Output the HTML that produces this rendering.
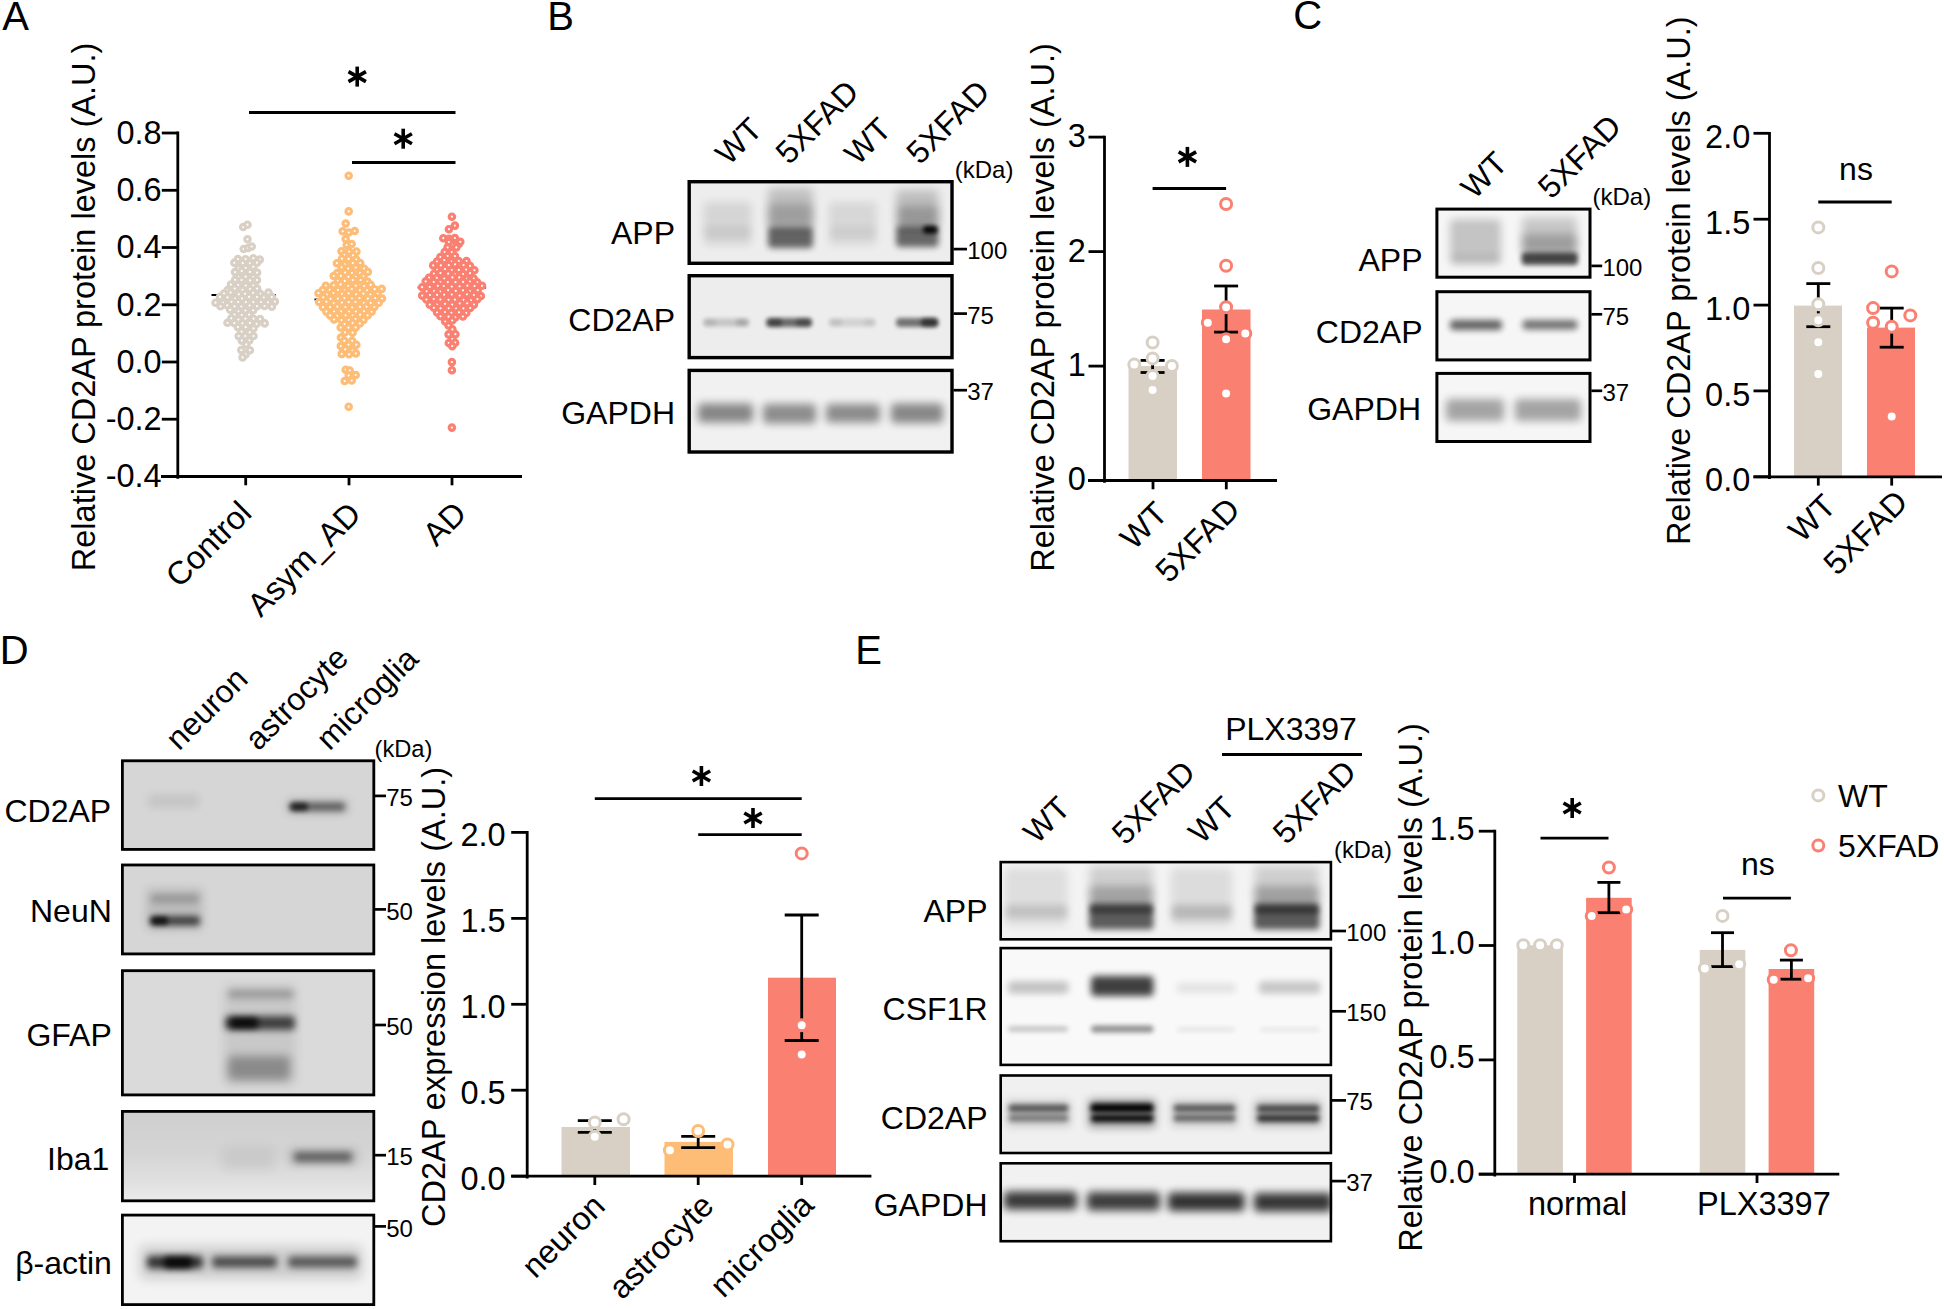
<!DOCTYPE html><html><head><meta charset="utf-8"><title>Figure</title>
<style>html,body{margin:0;padding:0;background:#fff}svg{display:block}text{font-family:"Liberation Sans",sans-serif;fill:#000}</style></head><body>
<svg width="1944" height="1309" viewBox="0 0 1944 1309">
<defs>
<filter id="b1" x="-50%" y="-200%" width="200%" height="500%"><feGaussianBlur stdDeviation="1"/></filter>
<filter id="b1_5" x="-50%" y="-200%" width="200%" height="500%"><feGaussianBlur stdDeviation="1.5"/></filter>
<filter id="b2" x="-50%" y="-200%" width="200%" height="500%"><feGaussianBlur stdDeviation="2"/></filter>
<filter id="b2_2" x="-50%" y="-200%" width="200%" height="500%"><feGaussianBlur stdDeviation="2.2"/></filter>
<filter id="b2_5" x="-50%" y="-200%" width="200%" height="500%"><feGaussianBlur stdDeviation="2.5"/></filter>
<filter id="b2_6" x="-50%" y="-200%" width="200%" height="500%"><feGaussianBlur stdDeviation="2.6"/></filter>
<filter id="b2_7" x="-50%" y="-200%" width="200%" height="500%"><feGaussianBlur stdDeviation="2.7"/></filter>
<filter id="b2_8" x="-50%" y="-200%" width="200%" height="500%"><feGaussianBlur stdDeviation="2.8"/></filter>
<filter id="b3" x="-50%" y="-200%" width="200%" height="500%"><feGaussianBlur stdDeviation="3"/></filter>
<filter id="b3_2" x="-50%" y="-200%" width="200%" height="500%"><feGaussianBlur stdDeviation="3.2"/></filter>
<filter id="b3_5" x="-50%" y="-200%" width="200%" height="500%"><feGaussianBlur stdDeviation="3.5"/></filter>
<filter id="b4" x="-50%" y="-200%" width="200%" height="500%"><feGaussianBlur stdDeviation="4"/></filter>
<filter id="b4_5" x="-50%" y="-200%" width="200%" height="500%"><feGaussianBlur stdDeviation="4.5"/></filter>
<filter id="b5" x="-50%" y="-200%" width="200%" height="500%"><feGaussianBlur stdDeviation="5"/></filter>
<filter id="b6" x="-50%" y="-200%" width="200%" height="500%"><feGaussianBlur stdDeviation="6"/></filter>
<filter id="b8" x="-50%" y="-200%" width="200%" height="500%"><feGaussianBlur stdDeviation="8"/></filter>
<linearGradient id="gD4" x1="0" y1="0" x2="0" y2="1"><stop offset="0" stop-color="#fff" stop-opacity="0"/><stop offset="0.45" stop-color="#fff" stop-opacity="0.1"/><stop offset="0.8" stop-color="#fff" stop-opacity="0.38"/><stop offset="1" stop-color="#fff" stop-opacity="0.6"/></linearGradient>
</defs>
<rect width="1944" height="1309" fill="#fff"/>
<text x="2.2" y="29.8" font-size="40" text-anchor="start">A</text>
<text x="547.2" y="29.7" font-size="40" text-anchor="start">B</text>
<text x="1293.2" y="29.4" font-size="40" text-anchor="start">C</text>
<text x="-0.3" y="664.0" font-size="40" text-anchor="start">D</text>
<text x="855.3" y="664.0" font-size="40" text-anchor="start">E</text>
<line x1="177.8" y1="131.6" x2="177.8" y2="478.7" stroke="#000" stroke-width="2.8"/>
<line x1="161.0" y1="476.5" x2="522.0" y2="476.5" stroke="#000" stroke-width="2.8"/>
<line x1="161.8" y1="133.0" x2="177.8" y2="133.0" stroke="#000" stroke-width="2.8"/>
<text x="161.7" y="143.8" font-size="32.5" text-anchor="end">0.8</text>
<line x1="161.8" y1="190.3" x2="177.8" y2="190.3" stroke="#000" stroke-width="2.8"/>
<text x="161.7" y="201.0" font-size="32.5" text-anchor="end">0.6</text>
<line x1="161.8" y1="247.5" x2="177.8" y2="247.5" stroke="#000" stroke-width="2.8"/>
<text x="161.7" y="258.3" font-size="32.5" text-anchor="end">0.4</text>
<line x1="161.8" y1="304.8" x2="177.8" y2="304.8" stroke="#000" stroke-width="2.8"/>
<text x="161.7" y="315.5" font-size="32.5" text-anchor="end">0.2</text>
<line x1="161.8" y1="362.0" x2="177.8" y2="362.0" stroke="#000" stroke-width="2.8"/>
<text x="161.7" y="372.7" font-size="32.5" text-anchor="end">0.0</text>
<line x1="161.8" y1="419.2" x2="177.8" y2="419.2" stroke="#000" stroke-width="2.8"/>
<text x="161.7" y="430.0" font-size="32.5" text-anchor="end">-0.2</text>
<line x1="161.8" y1="476.5" x2="177.8" y2="476.5" stroke="#000" stroke-width="2.8"/>
<text x="161.7" y="487.2" font-size="32.5" text-anchor="end">-0.4</text>
<line x1="245.7" y1="476.5" x2="245.7" y2="485.3" stroke="#000" stroke-width="2.8"/>
<line x1="349.0" y1="476.5" x2="349.0" y2="485.3" stroke="#000" stroke-width="2.8"/>
<line x1="452.0" y1="476.5" x2="452.0" y2="485.3" stroke="#000" stroke-width="2.8"/>
<text transform="translate(95.3,306.9) rotate(-90)" font-size="32.5" text-anchor="middle">Relative CD2AP protein levels (A.U.)</text>
<line x1="249.0" y1="112.5" x2="455.5" y2="112.5" stroke="#000" stroke-width="2.8"/>
<line x1="357.2" y1="66.6" x2="357.2" y2="86.6" stroke="#000" stroke-width="3.6"/>
<line x1="348.5" y1="71.6" x2="365.9" y2="81.6" stroke="#000" stroke-width="3.6"/>
<line x1="348.5" y1="81.6" x2="365.9" y2="71.6" stroke="#000" stroke-width="3.6"/>
<line x1="352.0" y1="162.5" x2="455.5" y2="162.5" stroke="#000" stroke-width="2.8"/>
<line x1="403.2" y1="128.7" x2="403.2" y2="148.7" stroke="#000" stroke-width="3.6"/>
<line x1="394.5" y1="133.7" x2="411.9" y2="143.7" stroke="#000" stroke-width="3.6"/>
<line x1="394.5" y1="143.7" x2="411.9" y2="133.7" stroke="#000" stroke-width="3.6"/>
<text transform="translate(253.3,515.0) rotate(-45)" font-size="32.5" text-anchor="end">Control</text>
<text transform="translate(362.8,516.0) rotate(-45)" font-size="32.5" text-anchor="end">Asym_AD</text>
<text transform="translate(468.3,515.5) rotate(-45)" font-size="32.5" text-anchor="end">AD</text>
<line x1="211.5" y1="295.0" x2="275.7" y2="295.0" stroke="#000" stroke-width="2"/>
<g fill="#fff" stroke="#d9d0c5" stroke-width="3.2">
<circle cx="237.9" cy="259.1" r="2.7"/>
<circle cx="245.5" cy="259.2" r="2.7"/>
<circle cx="253.3" cy="258.2" r="2.7"/>
<circle cx="259.8" cy="259.6" r="2.7"/>
<circle cx="234.3" cy="262.8" r="2.7"/>
<circle cx="242.7" cy="263.2" r="2.7"/>
<circle cx="249.9" cy="263.3" r="2.7"/>
<circle cx="257.0" cy="262.7" r="2.7"/>
<circle cx="238.5" cy="268.3" r="2.7"/>
<circle cx="245.7" cy="268.0" r="2.7"/>
<circle cx="253.3" cy="266.8" r="2.7"/>
<circle cx="235.0" cy="272.1" r="2.7"/>
<circle cx="241.7" cy="271.1" r="2.7"/>
<circle cx="249.9" cy="271.9" r="2.7"/>
<circle cx="257.1" cy="272.6" r="2.7"/>
<circle cx="238.6" cy="277.0" r="2.7"/>
<circle cx="245.6" cy="276.7" r="2.7"/>
<circle cx="253.0" cy="277.0" r="2.7"/>
<circle cx="235.1" cy="279.8" r="2.7"/>
<circle cx="241.5" cy="280.0" r="2.7"/>
<circle cx="250.1" cy="280.4" r="2.7"/>
<circle cx="257.0" cy="280.1" r="2.7"/>
<circle cx="230.9" cy="284.6" r="2.7"/>
<circle cx="238.1" cy="285.0" r="2.7"/>
<circle cx="245.8" cy="285.5" r="2.7"/>
<circle cx="253.4" cy="285.6" r="2.7"/>
<circle cx="227.7" cy="290.0" r="2.7"/>
<circle cx="234.8" cy="288.5" r="2.7"/>
<circle cx="242.5" cy="289.9" r="2.7"/>
<circle cx="250.0" cy="289.2" r="2.7"/>
<circle cx="257.1" cy="288.6" r="2.7"/>
<circle cx="224.0" cy="293.5" r="2.7"/>
<circle cx="230.6" cy="292.6" r="2.7"/>
<circle cx="238.8" cy="294.3" r="2.7"/>
<circle cx="245.1" cy="293.9" r="2.7"/>
<circle cx="253.0" cy="292.8" r="2.7"/>
<circle cx="260.2" cy="293.9" r="2.7"/>
<circle cx="268.4" cy="292.6" r="2.7"/>
<circle cx="220.0" cy="296.9" r="2.7"/>
<circle cx="227.5" cy="297.4" r="2.7"/>
<circle cx="235.1" cy="298.6" r="2.7"/>
<circle cx="242.0" cy="298.6" r="2.7"/>
<circle cx="249.1" cy="296.9" r="2.7"/>
<circle cx="256.9" cy="296.9" r="2.7"/>
<circle cx="263.8" cy="297.5" r="2.7"/>
<circle cx="271.8" cy="297.1" r="2.7"/>
<circle cx="215.5" cy="302.7" r="2.7"/>
<circle cx="223.2" cy="302.8" r="2.7"/>
<circle cx="231.5" cy="301.8" r="2.7"/>
<circle cx="238.2" cy="302.0" r="2.7"/>
<circle cx="245.9" cy="302.2" r="2.7"/>
<circle cx="253.2" cy="302.2" r="2.7"/>
<circle cx="261.1" cy="302.0" r="2.7"/>
<circle cx="267.8" cy="302.4" r="2.7"/>
<circle cx="274.9" cy="301.6" r="2.7"/>
<circle cx="220.5" cy="306.3" r="2.7"/>
<circle cx="227.3" cy="305.4" r="2.7"/>
<circle cx="234.5" cy="306.4" r="2.7"/>
<circle cx="241.3" cy="306.5" r="2.7"/>
<circle cx="249.6" cy="305.5" r="2.7"/>
<circle cx="257.0" cy="306.2" r="2.7"/>
<circle cx="264.5" cy="306.0" r="2.7"/>
<circle cx="271.9" cy="306.7" r="2.7"/>
<circle cx="230.2" cy="309.8" r="2.7"/>
<circle cx="238.5" cy="311.4" r="2.7"/>
<circle cx="245.4" cy="310.5" r="2.7"/>
<circle cx="253.2" cy="310.3" r="2.7"/>
<circle cx="234.4" cy="314.6" r="2.7"/>
<circle cx="241.8" cy="315.1" r="2.7"/>
<circle cx="249.1" cy="314.7" r="2.7"/>
<circle cx="231.3" cy="318.3" r="2.7"/>
<circle cx="238.4" cy="319.6" r="2.7"/>
<circle cx="245.4" cy="318.7" r="2.7"/>
<circle cx="253.5" cy="318.7" r="2.7"/>
<circle cx="260.1" cy="319.1" r="2.7"/>
<circle cx="227.5" cy="322.8" r="2.7"/>
<circle cx="234.4" cy="323.2" r="2.7"/>
<circle cx="242.5" cy="323.4" r="2.7"/>
<circle cx="249.9" cy="322.9" r="2.7"/>
<circle cx="256.6" cy="323.8" r="2.7"/>
<circle cx="264.7" cy="323.4" r="2.7"/>
<circle cx="237.9" cy="327.1" r="2.7"/>
<circle cx="245.7" cy="327.2" r="2.7"/>
<circle cx="253.5" cy="328.4" r="2.7"/>
<circle cx="241.6" cy="331.7" r="2.7"/>
<circle cx="249.8" cy="332.4" r="2.7"/>
<circle cx="238.7" cy="336.1" r="2.7"/>
<circle cx="245.2" cy="336.0" r="2.7"/>
<circle cx="253.5" cy="336.0" r="2.7"/>
<circle cx="241.8" cy="340.6" r="2.7"/>
<circle cx="249.3" cy="340.5" r="2.7"/>
<circle cx="246.3" cy="344.4" r="2.7"/>
<circle cx="241.3" cy="350.1" r="2.7"/>
<circle cx="249.9" cy="350.2" r="2.7"/>
<circle cx="245.6" cy="354.4" r="2.7"/>
<circle cx="242.6" cy="357.4" r="2.7"/>
<circle cx="243.2" cy="227.0" r="2.7"/>
<circle cx="247.5" cy="224.7" r="2.7"/>
<circle cx="247.5" cy="239.3" r="2.7"/>
<circle cx="243.7" cy="249.0" r="2.7"/>
<circle cx="248.1" cy="248.0" r="2.7"/>
<circle cx="251.7" cy="246.5" r="2.7"/>
</g>
<line x1="314.5" y1="299.5" x2="382.9" y2="299.5" stroke="#000" stroke-width="2"/>
<g fill="#fff" stroke="#fdbd77" stroke-width="3.2">
<circle cx="341.5" cy="251.2" r="2.7"/>
<circle cx="349.1" cy="251.6" r="2.7"/>
<circle cx="356.4" cy="251.6" r="2.7"/>
<circle cx="344.3" cy="255.0" r="2.7"/>
<circle cx="353.0" cy="255.4" r="2.7"/>
<circle cx="341.9" cy="258.7" r="2.7"/>
<circle cx="348.7" cy="258.9" r="2.7"/>
<circle cx="356.2" cy="259.5" r="2.7"/>
<circle cx="336.9" cy="263.2" r="2.7"/>
<circle cx="344.7" cy="264.4" r="2.7"/>
<circle cx="352.8" cy="263.1" r="2.7"/>
<circle cx="360.2" cy="263.0" r="2.7"/>
<circle cx="341.5" cy="267.3" r="2.7"/>
<circle cx="348.0" cy="268.7" r="2.7"/>
<circle cx="355.7" cy="267.5" r="2.7"/>
<circle cx="364.2" cy="268.7" r="2.7"/>
<circle cx="337.3" cy="273.1" r="2.7"/>
<circle cx="345.1" cy="272.6" r="2.7"/>
<circle cx="352.0" cy="273.1" r="2.7"/>
<circle cx="360.1" cy="273.1" r="2.7"/>
<circle cx="367.8" cy="271.9" r="2.7"/>
<circle cx="333.7" cy="276.0" r="2.7"/>
<circle cx="340.8" cy="275.8" r="2.7"/>
<circle cx="348.4" cy="276.8" r="2.7"/>
<circle cx="355.4" cy="276.9" r="2.7"/>
<circle cx="363.3" cy="276.3" r="2.7"/>
<circle cx="338.0" cy="280.9" r="2.7"/>
<circle cx="344.7" cy="280.9" r="2.7"/>
<circle cx="352.7" cy="280.1" r="2.7"/>
<circle cx="360.5" cy="280.0" r="2.7"/>
<circle cx="367.5" cy="281.5" r="2.7"/>
<circle cx="325.8" cy="285.7" r="2.7"/>
<circle cx="333.7" cy="285.3" r="2.7"/>
<circle cx="340.6" cy="284.4" r="2.7"/>
<circle cx="348.3" cy="286.0" r="2.7"/>
<circle cx="355.7" cy="285.7" r="2.7"/>
<circle cx="364.1" cy="286.0" r="2.7"/>
<circle cx="370.7" cy="284.9" r="2.7"/>
<circle cx="322.8" cy="290.0" r="2.7"/>
<circle cx="329.7" cy="289.9" r="2.7"/>
<circle cx="338.0" cy="290.1" r="2.7"/>
<circle cx="344.4" cy="290.3" r="2.7"/>
<circle cx="351.8" cy="289.2" r="2.7"/>
<circle cx="360.0" cy="290.3" r="2.7"/>
<circle cx="367.0" cy="290.3" r="2.7"/>
<circle cx="374.7" cy="289.2" r="2.7"/>
<circle cx="381.7" cy="288.9" r="2.7"/>
<circle cx="318.5" cy="293.2" r="2.7"/>
<circle cx="326.8" cy="294.7" r="2.7"/>
<circle cx="333.4" cy="293.0" r="2.7"/>
<circle cx="342.0" cy="293.9" r="2.7"/>
<circle cx="348.6" cy="293.3" r="2.7"/>
<circle cx="356.2" cy="294.4" r="2.7"/>
<circle cx="363.4" cy="293.7" r="2.7"/>
<circle cx="370.3" cy="294.5" r="2.7"/>
<circle cx="377.6" cy="293.8" r="2.7"/>
<circle cx="323.3" cy="297.4" r="2.7"/>
<circle cx="330.5" cy="298.9" r="2.7"/>
<circle cx="337.8" cy="298.6" r="2.7"/>
<circle cx="344.4" cy="298.0" r="2.7"/>
<circle cx="351.9" cy="298.7" r="2.7"/>
<circle cx="359.5" cy="298.0" r="2.7"/>
<circle cx="367.9" cy="298.7" r="2.7"/>
<circle cx="375.3" cy="298.0" r="2.7"/>
<circle cx="382.0" cy="298.5" r="2.7"/>
<circle cx="319.1" cy="302.0" r="2.7"/>
<circle cx="326.4" cy="301.8" r="2.7"/>
<circle cx="333.7" cy="303.3" r="2.7"/>
<circle cx="341.9" cy="302.6" r="2.7"/>
<circle cx="348.7" cy="302.1" r="2.7"/>
<circle cx="355.5" cy="302.0" r="2.7"/>
<circle cx="363.9" cy="303.1" r="2.7"/>
<circle cx="370.7" cy="302.9" r="2.7"/>
<circle cx="378.7" cy="302.8" r="2.7"/>
<circle cx="323.0" cy="307.2" r="2.7"/>
<circle cx="330.0" cy="307.1" r="2.7"/>
<circle cx="337.3" cy="306.7" r="2.7"/>
<circle cx="345.4" cy="307.0" r="2.7"/>
<circle cx="352.1" cy="307.5" r="2.7"/>
<circle cx="360.0" cy="306.8" r="2.7"/>
<circle cx="366.5" cy="306.8" r="2.7"/>
<circle cx="374.3" cy="307.0" r="2.7"/>
<circle cx="326.4" cy="311.6" r="2.7"/>
<circle cx="334.1" cy="311.5" r="2.7"/>
<circle cx="341.1" cy="311.3" r="2.7"/>
<circle cx="349.0" cy="311.6" r="2.7"/>
<circle cx="355.9" cy="311.6" r="2.7"/>
<circle cx="364.0" cy="311.3" r="2.7"/>
<circle cx="371.6" cy="311.8" r="2.7"/>
<circle cx="330.2" cy="315.4" r="2.7"/>
<circle cx="337.1" cy="315.9" r="2.7"/>
<circle cx="345.6" cy="315.3" r="2.7"/>
<circle cx="352.7" cy="315.7" r="2.7"/>
<circle cx="360.1" cy="314.7" r="2.7"/>
<circle cx="367.6" cy="315.4" r="2.7"/>
<circle cx="334.1" cy="319.5" r="2.7"/>
<circle cx="341.5" cy="320.1" r="2.7"/>
<circle cx="348.9" cy="320.0" r="2.7"/>
<circle cx="355.4" cy="319.0" r="2.7"/>
<circle cx="363.4" cy="319.9" r="2.7"/>
<circle cx="344.6" cy="324.2" r="2.7"/>
<circle cx="352.6" cy="323.1" r="2.7"/>
<circle cx="359.8" cy="323.4" r="2.7"/>
<circle cx="340.7" cy="327.5" r="2.7"/>
<circle cx="348.4" cy="327.6" r="2.7"/>
<circle cx="355.7" cy="327.4" r="2.7"/>
<circle cx="345.0" cy="332.3" r="2.7"/>
<circle cx="352.6" cy="332.7" r="2.7"/>
<circle cx="340.9" cy="337.5" r="2.7"/>
<circle cx="344.3" cy="340.9" r="2.7"/>
<circle cx="352.1" cy="340.9" r="2.7"/>
<circle cx="340.8" cy="346.0" r="2.7"/>
<circle cx="348.5" cy="344.6" r="2.7"/>
<circle cx="356.3" cy="344.7" r="2.7"/>
<circle cx="345.1" cy="349.4" r="2.7"/>
<circle cx="352.5" cy="350.5" r="2.7"/>
<circle cx="341.7" cy="353.9" r="2.7"/>
<circle cx="349.1" cy="354.3" r="2.7"/>
<circle cx="355.9" cy="353.4" r="2.7"/>
<circle cx="348.7" cy="175.7" r="2.7"/>
<circle cx="348.7" cy="211.4" r="2.7"/>
<circle cx="345.7" cy="223.5" r="2.7"/>
<circle cx="342.7" cy="231.3" r="2.7"/>
<circle cx="348.7" cy="232.5" r="2.7"/>
<circle cx="354.7" cy="231.0" r="2.7"/>
<circle cx="345.7" cy="239.0" r="2.7"/>
<circle cx="346.7" cy="245.0" r="2.7"/>
<circle cx="351.7" cy="244.0" r="2.7"/>
<circle cx="345.7" cy="369.7" r="2.7"/>
<circle cx="349.7" cy="370.5" r="2.7"/>
<circle cx="348.7" cy="375.5" r="2.7"/>
<circle cx="355.7" cy="375.0" r="2.7"/>
<circle cx="344.7" cy="381.0" r="2.7"/>
<circle cx="351.7" cy="380.5" r="2.7"/>
<circle cx="348.7" cy="406.7" r="2.7"/>
</g>
<line x1="417.7" y1="287.6" x2="486.1" y2="287.6" stroke="#000" stroke-width="2"/>
<g fill="#fff" stroke="#fa8072" stroke-width="3.2">
<circle cx="451.5" cy="244.4" r="2.7"/>
<circle cx="458.8" cy="244.0" r="2.7"/>
<circle cx="447.6" cy="247.4" r="2.7"/>
<circle cx="456.3" cy="247.4" r="2.7"/>
<circle cx="444.7" cy="252.1" r="2.7"/>
<circle cx="451.8" cy="252.2" r="2.7"/>
<circle cx="440.4" cy="257.1" r="2.7"/>
<circle cx="447.6" cy="256.0" r="2.7"/>
<circle cx="454.9" cy="256.1" r="2.7"/>
<circle cx="437.0" cy="261.5" r="2.7"/>
<circle cx="444.3" cy="260.1" r="2.7"/>
<circle cx="451.6" cy="261.7" r="2.7"/>
<circle cx="458.7" cy="261.0" r="2.7"/>
<circle cx="466.5" cy="261.1" r="2.7"/>
<circle cx="433.2" cy="265.4" r="2.7"/>
<circle cx="440.8" cy="265.4" r="2.7"/>
<circle cx="448.8" cy="265.2" r="2.7"/>
<circle cx="455.1" cy="264.3" r="2.7"/>
<circle cx="463.6" cy="265.1" r="2.7"/>
<circle cx="470.0" cy="265.9" r="2.7"/>
<circle cx="437.2" cy="269.8" r="2.7"/>
<circle cx="445.0" cy="269.0" r="2.7"/>
<circle cx="451.7" cy="270.1" r="2.7"/>
<circle cx="458.8" cy="269.9" r="2.7"/>
<circle cx="466.1" cy="269.7" r="2.7"/>
<circle cx="474.4" cy="270.2" r="2.7"/>
<circle cx="433.9" cy="273.7" r="2.7"/>
<circle cx="440.4" cy="273.1" r="2.7"/>
<circle cx="448.2" cy="273.7" r="2.7"/>
<circle cx="455.0" cy="274.4" r="2.7"/>
<circle cx="463.0" cy="274.1" r="2.7"/>
<circle cx="470.0" cy="273.2" r="2.7"/>
<circle cx="429.0" cy="277.7" r="2.7"/>
<circle cx="436.8" cy="277.9" r="2.7"/>
<circle cx="444.3" cy="278.6" r="2.7"/>
<circle cx="452.4" cy="277.4" r="2.7"/>
<circle cx="459.2" cy="277.4" r="2.7"/>
<circle cx="466.9" cy="278.9" r="2.7"/>
<circle cx="473.7" cy="278.5" r="2.7"/>
<circle cx="425.7" cy="281.4" r="2.7"/>
<circle cx="433.8" cy="282.0" r="2.7"/>
<circle cx="440.3" cy="282.2" r="2.7"/>
<circle cx="447.8" cy="282.1" r="2.7"/>
<circle cx="455.5" cy="282.2" r="2.7"/>
<circle cx="463.1" cy="281.9" r="2.7"/>
<circle cx="469.8" cy="281.6" r="2.7"/>
<circle cx="477.2" cy="282.3" r="2.7"/>
<circle cx="422.1" cy="287.2" r="2.7"/>
<circle cx="429.7" cy="287.0" r="2.7"/>
<circle cx="437.8" cy="285.8" r="2.7"/>
<circle cx="443.8" cy="286.0" r="2.7"/>
<circle cx="451.7" cy="286.7" r="2.7"/>
<circle cx="459.6" cy="286.3" r="2.7"/>
<circle cx="467.4" cy="285.7" r="2.7"/>
<circle cx="474.6" cy="286.1" r="2.7"/>
<circle cx="482.0" cy="285.8" r="2.7"/>
<circle cx="426.7" cy="291.4" r="2.7"/>
<circle cx="434.1" cy="291.0" r="2.7"/>
<circle cx="440.3" cy="291.7" r="2.7"/>
<circle cx="448.1" cy="290.2" r="2.7"/>
<circle cx="455.7" cy="290.9" r="2.7"/>
<circle cx="463.0" cy="290.3" r="2.7"/>
<circle cx="469.9" cy="291.0" r="2.7"/>
<circle cx="477.7" cy="290.2" r="2.7"/>
<circle cx="422.2" cy="295.6" r="2.7"/>
<circle cx="430.0" cy="295.1" r="2.7"/>
<circle cx="437.0" cy="294.9" r="2.7"/>
<circle cx="444.1" cy="294.7" r="2.7"/>
<circle cx="451.8" cy="294.5" r="2.7"/>
<circle cx="459.6" cy="295.6" r="2.7"/>
<circle cx="466.9" cy="294.3" r="2.7"/>
<circle cx="473.9" cy="295.1" r="2.7"/>
<circle cx="480.9" cy="296.0" r="2.7"/>
<circle cx="426.4" cy="299.5" r="2.7"/>
<circle cx="433.7" cy="299.0" r="2.7"/>
<circle cx="440.4" cy="299.5" r="2.7"/>
<circle cx="448.5" cy="299.8" r="2.7"/>
<circle cx="454.9" cy="299.7" r="2.7"/>
<circle cx="463.6" cy="299.9" r="2.7"/>
<circle cx="471.0" cy="300.4" r="2.7"/>
<circle cx="477.4" cy="299.1" r="2.7"/>
<circle cx="429.8" cy="304.7" r="2.7"/>
<circle cx="436.9" cy="304.6" r="2.7"/>
<circle cx="445.0" cy="303.8" r="2.7"/>
<circle cx="452.1" cy="304.6" r="2.7"/>
<circle cx="459.7" cy="303.4" r="2.7"/>
<circle cx="467.2" cy="303.3" r="2.7"/>
<circle cx="473.9" cy="304.6" r="2.7"/>
<circle cx="433.9" cy="307.8" r="2.7"/>
<circle cx="440.5" cy="308.3" r="2.7"/>
<circle cx="448.7" cy="308.4" r="2.7"/>
<circle cx="456.2" cy="308.5" r="2.7"/>
<circle cx="463.4" cy="308.3" r="2.7"/>
<circle cx="470.2" cy="308.0" r="2.7"/>
<circle cx="437.1" cy="312.5" r="2.7"/>
<circle cx="445.0" cy="312.0" r="2.7"/>
<circle cx="451.3" cy="312.8" r="2.7"/>
<circle cx="459.0" cy="312.3" r="2.7"/>
<circle cx="466.2" cy="313.0" r="2.7"/>
<circle cx="440.5" cy="316.3" r="2.7"/>
<circle cx="448.6" cy="316.7" r="2.7"/>
<circle cx="455.3" cy="317.4" r="2.7"/>
<circle cx="462.9" cy="316.5" r="2.7"/>
<circle cx="445.2" cy="321.5" r="2.7"/>
<circle cx="452.2" cy="320.5" r="2.7"/>
<circle cx="448.6" cy="325.5" r="2.7"/>
<circle cx="452.4" cy="329.4" r="2.7"/>
<circle cx="448.6" cy="334.4" r="2.7"/>
<circle cx="455.4" cy="334.2" r="2.7"/>
<circle cx="452.3" cy="339.1" r="2.7"/>
<circle cx="448.8" cy="343.0" r="2.7"/>
<circle cx="455.1" cy="342.7" r="2.7"/>
<circle cx="452.2" cy="346.1" r="2.7"/>
<circle cx="451.9" cy="216.7" r="2.7"/>
<circle cx="454.9" cy="225.6" r="2.7"/>
<circle cx="448.9" cy="229.2" r="2.7"/>
<circle cx="443.3" cy="238.2" r="2.7"/>
<circle cx="448.9" cy="238.8" r="2.7"/>
<circle cx="454.9" cy="238.0" r="2.7"/>
<circle cx="448.9" cy="242.0" r="2.7"/>
<circle cx="460.3" cy="241.8" r="2.7"/>
<circle cx="451.9" cy="362.1" r="2.7"/>
<circle cx="451.9" cy="370.2" r="2.7"/>
<circle cx="451.9" cy="427.6" r="2.7"/>
</g>
<clipPath id="cB1"><rect x="687.5" y="180" width="266.20000000000005" height="85"/></clipPath>
<rect x="687.5" y="180" width="266.20000000000005" height="85" fill="#ededed"/>
<g clip-path="url(#cB1)">
<rect x="703.5" y="202.0" width="48.0" height="43.0" rx="4.0" fill="#000" opacity="0.097" filter="url(#b4_5)"/>
<rect x="704.0" y="226.0" width="47.0" height="12.0" rx="4.0" fill="#000" opacity="0.049" filter="url(#b3)"/>
<rect x="768.0" y="188.0" width="45.0" height="40.0" rx="4.0" fill="#000" opacity="0.190" filter="url(#b5)"/>
<rect x="768.0" y="204.0" width="45.0" height="24.0" rx="4.0" fill="#000" opacity="0.167" filter="url(#b4)"/>
<rect x="768.0" y="227.0" width="45.0" height="21.0" rx="4.0" fill="#000" opacity="0.579" filter="url(#b3_2)"/>
<rect x="829.0" y="202.0" width="47.5" height="43.0" rx="4.0" fill="#000" opacity="0.089" filter="url(#b4_5)"/>
<rect x="829.5" y="226.0" width="46.5" height="12.0" rx="4.0" fill="#000" opacity="0.039" filter="url(#b3)"/>
<rect x="896.0" y="190.0" width="42.5" height="38.0" rx="4.0" fill="#000" opacity="0.198" filter="url(#b5)"/>
<rect x="898.0" y="206.0" width="40.5" height="22.0" rx="4.0" fill="#000" opacity="0.201" filter="url(#b4)"/>
<rect x="896.0" y="226.0" width="42.5" height="21.0" rx="4.0" fill="#000" opacity="0.570" filter="url(#b3_2)"/>
<rect x="923.0" y="226.0" width="14.5" height="7.5" rx="3.8" fill="#000" opacity="0.940" filter="url(#b2)"/>
</g>
<rect x="689.2" y="181.7" width="262.80000000000007" height="81.6" fill="none" stroke="#000" stroke-width="3.4"/>
<clipPath id="cB2"><rect x="687.5" y="274" width="266.20000000000005" height="85.30000000000001"/></clipPath>
<rect x="687.5" y="274" width="266.20000000000005" height="85.30000000000001" fill="#ededed"/>
<g clip-path="url(#cB2)">
<rect x="703.0" y="318.5" width="46.5" height="8.0" rx="4.0" fill="#000" opacity="0.168" filter="url(#b2_2)"/>
<rect x="736.0" y="319.0" width="12.0" height="7.0" rx="3.5" fill="#000" opacity="0.153" filter="url(#b2)"/>
<rect x="704.0" y="319.0" width="12.0" height="7.0" rx="3.5" fill="#000" opacity="0.087" filter="url(#b2)"/>
<rect x="766.0" y="318.0" width="46.0" height="9.0" rx="4.0" fill="#000" opacity="0.550" filter="url(#b2_2)"/>
<rect x="768.0" y="319.0" width="14.0" height="7.0" rx="3.5" fill="#000" opacity="0.408" filter="url(#b2)"/>
<rect x="796.0" y="319.0" width="15.0" height="7.0" rx="3.5" fill="#000" opacity="0.330" filter="url(#b2)"/>
<rect x="828.5" y="318.5" width="47.0" height="8.0" rx="4.0" fill="#000" opacity="0.113" filter="url(#b2_2)"/>
<rect x="830.0" y="319.0" width="12.0" height="7.0" rx="3.5" fill="#000" opacity="0.082" filter="url(#b2)"/>
<rect x="864.0" y="319.0" width="11.0" height="7.0" rx="3.5" fill="#000" opacity="0.062" filter="url(#b2)"/>
<rect x="896.0" y="318.0" width="42.0" height="9.0" rx="4.0" fill="#000" opacity="0.523" filter="url(#b2_2)"/>
<rect x="921.0" y="318.5" width="17.0" height="8.0" rx="4.0" fill="#000" opacity="0.586" filter="url(#b2)"/>
</g>
<rect x="689.2" y="275.7" width="262.80000000000007" height="81.9" fill="none" stroke="#000" stroke-width="3.4"/>
<clipPath id="cB3"><rect x="687.5" y="368.7" width="266.20000000000005" height="85.0"/></clipPath>
<rect x="687.5" y="368.7" width="266.20000000000005" height="85.0" fill="#f1f1f1"/>
<g clip-path="url(#cB3)">
<rect x="698.0" y="403.5" width="55.0" height="19.0" rx="4.0" fill="#000" opacity="0.443" filter="url(#b4_5)"/>
<rect x="763.0" y="404.0" width="53.0" height="19.5" rx="4.0" fill="#000" opacity="0.415" filter="url(#b4_5)"/>
<rect x="826.0" y="404.0" width="54.0" height="18.5" rx="4.0" fill="#000" opacity="0.419" filter="url(#b4_5)"/>
<rect x="891.0" y="403.5" width="52.0" height="19.5" rx="4.0" fill="#000" opacity="0.441" filter="url(#b4_5)"/>
</g>
<rect x="689.2" y="370.4" width="262.80000000000007" height="81.6" fill="none" stroke="#000" stroke-width="3.4"/>
<text x="675.0" y="243.5" font-size="32" text-anchor="end">APP</text>
<text x="675.0" y="330.5" font-size="32" text-anchor="end">CD2AP</text>
<text x="675.0" y="424.3" font-size="32" text-anchor="end">GAPDH</text>
<text x="954.8" y="178.1" font-size="24" text-anchor="start">(kDa)</text>
<line x1="953.5" y1="249.1" x2="967.0" y2="249.1" stroke="#000" stroke-width="2.7"/>
<text x="967.2" y="259.0" font-size="24" text-anchor="start">100</text>
<line x1="953.5" y1="313.6" x2="967.0" y2="313.6" stroke="#000" stroke-width="2.7"/>
<text x="967.2" y="323.5" font-size="24" text-anchor="start">75</text>
<line x1="953.5" y1="390.2" x2="967.0" y2="390.2" stroke="#000" stroke-width="2.7"/>
<text x="967.2" y="400.1" font-size="24" text-anchor="start">37</text>
<text transform="translate(764.0,131.2) rotate(-45)" font-size="32" text-anchor="end">WT</text>
<text transform="translate(860.7,94.0) rotate(-45)" font-size="32" text-anchor="end">5XFAD</text>
<text transform="translate(893.0,131.2) rotate(-45)" font-size="32" text-anchor="end">WT</text>
<text transform="translate(991.5,94.0) rotate(-45)" font-size="32" text-anchor="end">5XFAD</text>
<text transform="translate(1054.0,307.4) rotate(-90)" font-size="32.5" text-anchor="middle">Relative CD2AP protein levels (A.U.)</text>
<rect x="1128.5" y="366.0" width="48.5" height="114.5" fill="#d9d0c5"/>
<rect x="1202.0" y="309.5" width="48.5" height="171.0" fill="#fa8072"/>
<line x1="1104.5" y1="135.7" x2="1104.5" y2="482.7" stroke="#000" stroke-width="2.8"/>
<line x1="1088.0" y1="480.5" x2="1277.0" y2="480.5" stroke="#000" stroke-width="2.8"/>
<line x1="1088.5" y1="137.1" x2="1104.5" y2="137.1" stroke="#000" stroke-width="2.8"/>
<text x="1085.8" y="147.1" font-size="32.5" text-anchor="end">3</text>
<line x1="1088.5" y1="251.6" x2="1104.5" y2="251.6" stroke="#000" stroke-width="2.8"/>
<text x="1085.8" y="261.5" font-size="32.5" text-anchor="end">2</text>
<line x1="1088.5" y1="366.1" x2="1104.5" y2="366.1" stroke="#000" stroke-width="2.8"/>
<text x="1085.8" y="376.0" font-size="32.5" text-anchor="end">1</text>
<line x1="1088.5" y1="480.5" x2="1104.5" y2="480.5" stroke="#000" stroke-width="2.8"/>
<text x="1085.8" y="490.4" font-size="32.5" text-anchor="end">0</text>
<line x1="1153.0" y1="480.5" x2="1153.0" y2="489.3" stroke="#000" stroke-width="2.8"/>
<line x1="1226.3" y1="480.5" x2="1226.3" y2="489.3" stroke="#000" stroke-width="2.8"/>
<line x1="1152.6" y1="360.4" x2="1152.6" y2="372.5" stroke="#000" stroke-width="2.8"/>
<line x1="1140.6" y1="360.4" x2="1164.6" y2="360.4" stroke="#000" stroke-width="2.8"/>
<line x1="1140.6" y1="372.5" x2="1164.6" y2="372.5" stroke="#000" stroke-width="2.8"/>
<line x1="1226.1" y1="286.0" x2="1226.1" y2="332.1" stroke="#000" stroke-width="2.8"/>
<line x1="1214.1" y1="286.0" x2="1238.1" y2="286.0" stroke="#000" stroke-width="2.8"/>
<line x1="1214.1" y1="332.1" x2="1238.1" y2="332.1" stroke="#000" stroke-width="2.8"/>
<circle cx="1152.6" cy="342.5" r="5.5" fill="#fff" stroke="#d9d0c5" stroke-width="3.0"/>
<circle cx="1152.6" cy="358.4" r="5.5" fill="#fff" stroke="#d9d0c5" stroke-width="3.0"/>
<circle cx="1134.3" cy="364.6" r="5.5" fill="#fff" stroke="#d9d0c5" stroke-width="3.0"/>
<circle cx="1171.9" cy="366.0" r="5.5" fill="#fff" stroke="#d9d0c5" stroke-width="3.0"/>
<circle cx="1152.6" cy="375.9" r="5.5" fill="#fff" stroke="#d9d0c5" stroke-width="3.0"/>
<circle cx="1152.6" cy="390.0" r="5.5" fill="#fff" stroke="#d9d0c5" stroke-width="3.0"/>
<circle cx="1226.1" cy="204.0" r="5.5" fill="#fff" stroke="#fa8072" stroke-width="3.0"/>
<circle cx="1226.1" cy="265.7" r="5.5" fill="#fff" stroke="#fa8072" stroke-width="3.0"/>
<circle cx="1226.1" cy="307.2" r="5.5" fill="#fff" stroke="#fa8072" stroke-width="3.0"/>
<circle cx="1207.8" cy="322.8" r="5.5" fill="#fff" stroke="#fa8072" stroke-width="3.0"/>
<circle cx="1245.3" cy="333.5" r="5.5" fill="#fff" stroke="#fa8072" stroke-width="3.0"/>
<circle cx="1226.1" cy="339.2" r="5.5" fill="#fff" stroke="#fa8072" stroke-width="3.0"/>
<circle cx="1226.1" cy="393.4" r="5.5" fill="#fff" stroke="#fa8072" stroke-width="3.0"/>
<line x1="1152.6" y1="188.5" x2="1226.1" y2="188.5" stroke="#000" stroke-width="2.8"/>
<line x1="1187.4" y1="146.9" x2="1187.4" y2="166.9" stroke="#000" stroke-width="3.6"/>
<line x1="1178.7" y1="151.9" x2="1196.1" y2="161.9" stroke="#000" stroke-width="3.6"/>
<line x1="1178.7" y1="161.9" x2="1196.1" y2="151.9" stroke="#000" stroke-width="3.6"/>
<text transform="translate(1169.6,515.4) rotate(-45)" font-size="32.5" text-anchor="end">WT</text>
<text transform="translate(1241.8,511.5) rotate(-45)" font-size="32.5" text-anchor="end">5XFAD</text>
<clipPath id="cC1"><rect x="1435.4" y="207.6" width="156.0999999999999" height="71.1"/></clipPath>
<rect x="1435.4" y="207.6" width="156.0999999999999" height="71.1" fill="#f6f6f6"/>
<g clip-path="url(#cC1)">
<rect x="1450.0" y="219.0" width="51.0" height="45.0" rx="4.0" fill="#000" opacity="0.203" filter="url(#b4_5)"/>
<rect x="1451.0" y="254.0" width="49.0" height="10.0" rx="4.0" fill="#000" opacity="0.056" filter="url(#b3)"/>
<rect x="1522.0" y="217.0" width="55.0" height="37.0" rx="4.0" fill="#000" opacity="0.187" filter="url(#b5)"/>
<rect x="1522.0" y="234.0" width="55.0" height="20.0" rx="4.0" fill="#000" opacity="0.203" filter="url(#b4)"/>
<rect x="1521.5" y="252.5" width="56.5" height="12.5" rx="4.0" fill="#000" opacity="0.700" filter="url(#b2_5)"/>
</g>
<rect x="1436.9" y="209.1" width="153.0999999999999" height="68.1" fill="none" stroke="#000" stroke-width="3"/>
<clipPath id="cC2"><rect x="1435.4" y="290.2" width="156.0999999999999" height="71.19999999999999"/></clipPath>
<rect x="1435.4" y="290.2" width="156.0999999999999" height="71.19999999999999" fill="#f6f6f6"/>
<g clip-path="url(#cC2)">
<rect x="1450.0" y="320.0" width="52.0" height="10.0" rx="4.0" fill="#000" opacity="0.602" filter="url(#b3)"/>
<rect x="1522.5" y="320.0" width="55.0" height="9.5" rx="4.0" fill="#000" opacity="0.541" filter="url(#b3)"/>
</g>
<rect x="1436.9" y="291.7" width="153.0999999999999" height="68.19999999999999" fill="none" stroke="#000" stroke-width="3"/>
<clipPath id="cC3"><rect x="1435.4" y="371.9" width="156.0999999999999" height="71.10000000000002"/></clipPath>
<rect x="1435.4" y="371.9" width="156.0999999999999" height="71.10000000000002" fill="#f6f6f6"/>
<g clip-path="url(#cC3)">
<rect x="1446.0" y="399.0" width="58.0" height="22.0" rx="4.0" fill="#000" opacity="0.334" filter="url(#b4_5)"/>
<rect x="1515.0" y="399.0" width="66.0" height="22.0" rx="4.0" fill="#000" opacity="0.334" filter="url(#b4_5)"/>
</g>
<rect x="1436.9" y="373.4" width="153.0999999999999" height="68.10000000000002" fill="none" stroke="#000" stroke-width="3"/>
<text x="1422.5" y="271.1" font-size="32" text-anchor="end">APP</text>
<text x="1422.5" y="342.6" font-size="32" text-anchor="end">CD2AP</text>
<text x="1421.0" y="420.3" font-size="32" text-anchor="end">GAPDH</text>
<text x="1592.5" y="204.5" font-size="24" text-anchor="start">(kDa)</text>
<line x1="1591.3" y1="265.9" x2="1602.2" y2="265.9" stroke="#000" stroke-width="2.7"/>
<text x="1602.4" y="276.2" font-size="24" text-anchor="start">100</text>
<line x1="1591.3" y1="314.3" x2="1602.2" y2="314.3" stroke="#000" stroke-width="2.7"/>
<text x="1602.4" y="324.6" font-size="24" text-anchor="start">75</text>
<line x1="1591.3" y1="390.8" x2="1602.2" y2="390.8" stroke="#000" stroke-width="2.7"/>
<text x="1602.4" y="401.1" font-size="24" text-anchor="start">37</text>
<text transform="translate(1509.4,165.2) rotate(-45)" font-size="32" text-anchor="end">WT</text>
<text transform="translate(1623.0,128.5) rotate(-45)" font-size="32" text-anchor="end">5XFAD</text>
<text transform="translate(1690.0,280.8) rotate(-90)" font-size="32.5" text-anchor="middle">Relative CD2AP protein levels (A.U.)</text>
<rect x="1794.0" y="305.6" width="48.0" height="171.2" fill="#d9d0c5"/>
<rect x="1867.0" y="327.6" width="48.0" height="149.2" fill="#fa8072"/>
<line x1="1769.5" y1="131.9" x2="1769.5" y2="479.0" stroke="#000" stroke-width="2.8"/>
<line x1="1753.5" y1="476.8" x2="1942.0" y2="476.8" stroke="#000" stroke-width="2.8"/>
<line x1="1753.5" y1="133.3" x2="1769.5" y2="133.3" stroke="#000" stroke-width="2.8"/>
<text x="1750.3" y="147.9" font-size="32.5" text-anchor="end">2.0</text>
<line x1="1753.5" y1="219.2" x2="1769.5" y2="219.2" stroke="#000" stroke-width="2.8"/>
<text x="1750.3" y="233.8" font-size="32.5" text-anchor="end">1.5</text>
<line x1="1753.5" y1="305.1" x2="1769.5" y2="305.1" stroke="#000" stroke-width="2.8"/>
<text x="1750.3" y="319.7" font-size="32.5" text-anchor="end">1.0</text>
<line x1="1753.5" y1="390.9" x2="1769.5" y2="390.9" stroke="#000" stroke-width="2.8"/>
<text x="1750.3" y="405.6" font-size="32.5" text-anchor="end">0.5</text>
<line x1="1753.5" y1="476.8" x2="1769.5" y2="476.8" stroke="#000" stroke-width="2.8"/>
<text x="1750.3" y="491.4" font-size="32.5" text-anchor="end">0.0</text>
<line x1="1818.3" y1="476.8" x2="1818.3" y2="485.6" stroke="#000" stroke-width="2.8"/>
<line x1="1891.7" y1="476.8" x2="1891.7" y2="485.6" stroke="#000" stroke-width="2.8"/>
<line x1="1818.3" y1="283.6" x2="1818.3" y2="326.7" stroke="#000" stroke-width="2.8"/>
<line x1="1806.3" y1="283.6" x2="1830.3" y2="283.6" stroke="#000" stroke-width="2.8"/>
<line x1="1806.3" y1="326.7" x2="1830.3" y2="326.7" stroke="#000" stroke-width="2.8"/>
<line x1="1891.7" y1="308.1" x2="1891.7" y2="347.2" stroke="#000" stroke-width="2.8"/>
<line x1="1879.7" y1="308.1" x2="1903.7" y2="308.1" stroke="#000" stroke-width="2.8"/>
<line x1="1879.7" y1="347.2" x2="1903.7" y2="347.2" stroke="#000" stroke-width="2.8"/>
<circle cx="1818.3" cy="227.4" r="5.5" fill="#fff" stroke="#d9d0c5" stroke-width="3.0"/>
<circle cx="1818.3" cy="268.0" r="5.5" fill="#fff" stroke="#d9d0c5" stroke-width="3.0"/>
<circle cx="1818.3" cy="304.2" r="5.5" fill="#fff" stroke="#d9d0c5" stroke-width="3.0"/>
<circle cx="1818.3" cy="320.3" r="5.5" fill="#fff" stroke="#d9d0c5" stroke-width="3.0"/>
<circle cx="1818.3" cy="342.3" r="5.5" fill="#fff" stroke="#d9d0c5" stroke-width="3.0"/>
<circle cx="1818.3" cy="374.1" r="5.5" fill="#fff" stroke="#d9d0c5" stroke-width="3.0"/>
<circle cx="1891.7" cy="271.4" r="5.5" fill="#fff" stroke="#fa8072" stroke-width="3.0"/>
<circle cx="1873.1" cy="308.1" r="5.5" fill="#fff" stroke="#fa8072" stroke-width="3.0"/>
<circle cx="1910.3" cy="315.4" r="5.5" fill="#fff" stroke="#fa8072" stroke-width="3.0"/>
<circle cx="1873.1" cy="322.7" r="5.5" fill="#fff" stroke="#fa8072" stroke-width="3.0"/>
<circle cx="1891.7" cy="326.7" r="5.5" fill="#fff" stroke="#fa8072" stroke-width="3.0"/>
<circle cx="1891.7" cy="416.6" r="5.5" fill="#fff" stroke="#fa8072" stroke-width="3.0"/>
<line x1="1818.3" y1="202.0" x2="1891.7" y2="202.0" stroke="#000" stroke-width="2.8"/>
<text x="1856.0" y="180.2" font-size="32" text-anchor="middle">ns</text>
<text transform="translate(1837.8,508.0) rotate(-45)" font-size="32.5" text-anchor="end">WT</text>
<text transform="translate(1909.7,504.0) rotate(-45)" font-size="32.5" text-anchor="end">5XFAD</text>
<clipPath id="cD1"><rect x="121" y="759.4" width="254.2" height="91.39999999999998"/></clipPath>
<rect x="121" y="759.4" width="254.2" height="91.39999999999998" fill="#d6d6d6"/>
<g clip-path="url(#cD1)">
<rect x="148.0" y="794.0" width="51.0" height="14.0" rx="4.0" fill="#000" opacity="0.074" filter="url(#b4_5)"/>
<rect x="286.0" y="799.0" width="63.0" height="15.0" rx="4.0" fill="#000" opacity="0.119" filter="url(#b5)"/>
<rect x="290.0" y="802.5" width="55.0" height="8.5" rx="4.0" fill="#000" opacity="0.511" filter="url(#b3_2)"/>
<rect x="290.0" y="803.0" width="18.0" height="7.5" rx="3.8" fill="#000" opacity="0.704" filter="url(#b2_6)"/>
</g>
<rect x="122.4" y="760.8" width="251.39999999999998" height="88.59999999999998" fill="none" stroke="#000" stroke-width="2.8"/>
<clipPath id="cD2"><rect x="121" y="863.6" width="254.2" height="91.69999999999993"/></clipPath>
<rect x="121" y="863.6" width="254.2" height="91.69999999999993" fill="#d6d6d6"/>
<g clip-path="url(#cD2)">
<rect x="146.0" y="888.0" width="57.0" height="42.0" rx="4.0" fill="#000" opacity="0.121" filter="url(#b5)"/>
<rect x="151.0" y="894.5" width="48.0" height="8.5" rx="4.0" fill="#000" opacity="0.183" filter="url(#b3_2)"/>
<rect x="150.0" y="916.0" width="50.0" height="9.5" rx="4.0" fill="#000" opacity="0.654" filter="url(#b3_2)"/>
<rect x="151.0" y="917.0" width="17.0" height="7.5" rx="3.8" fill="#000" opacity="0.775" filter="url(#b2_6)"/>
</g>
<rect x="122.4" y="865.0" width="251.39999999999998" height="88.89999999999993" fill="none" stroke="#000" stroke-width="2.8"/>
<clipPath id="cD3"><rect x="121" y="969.3" width="254.2" height="127.0"/></clipPath>
<rect x="121" y="969.3" width="254.2" height="127.0" fill="#dadada"/>
<g clip-path="url(#cD3)">
<rect x="224.0" y="985.0" width="72.0" height="100.0" rx="4.0" fill="#000" opacity="0.083" filter="url(#b6)"/>
<rect x="228.0" y="989.5" width="66.0" height="9.0" rx="4.0" fill="#000" opacity="0.225" filter="url(#b3_5)"/>
<rect x="225.0" y="1016.0" width="70.0" height="14.0" rx="4.0" fill="#000" opacity="0.681" filter="url(#b3_5)"/>
<rect x="230.0" y="1018.0" width="28.0" height="10.0" rx="4.0" fill="#000" opacity="0.885" filter="url(#b3)"/>
<rect x="228.0" y="1056.0" width="62.0" height="24.0" rx="4.0" fill="#000" opacity="0.305" filter="url(#b5)"/>
</g>
<rect x="122.4" y="970.6999999999999" width="251.39999999999998" height="124.2" fill="none" stroke="#000" stroke-width="2.8"/>
<clipPath id="cD4"><rect x="121" y="1110" width="254.2" height="92.20000000000005"/></clipPath>
<rect x="121" y="1110" width="254.2" height="92.20000000000005" fill="#cfcfcf"/>
<g clip-path="url(#cD4)">
<rect x="121" y="1110" width="254.2" height="92.20000000000005" fill="url(#gD4)"/>
<rect x="222.0" y="1148.0" width="53.0" height="22.0" rx="4.0" fill="#000" opacity="0.057" filter="url(#b6)"/>
<rect x="288.0" y="1148.0" width="70.0" height="18.0" rx="4.0" fill="#000" opacity="0.115" filter="url(#b5)"/>
<rect x="294.0" y="1152.0" width="58.0" height="10.0" rx="4.0" fill="#000" opacity="0.491" filter="url(#b3_5)"/>
</g>
<rect x="122.4" y="1111.4" width="251.39999999999998" height="89.40000000000005" fill="none" stroke="#000" stroke-width="2.8"/>
<clipPath id="cD5"><rect x="121" y="1213.7" width="254.2" height="92.29999999999995"/></clipPath>
<rect x="121" y="1213.7" width="254.2" height="92.29999999999995" fill="#f3f3f3"/>
<g clip-path="url(#cD5)">
<rect x="140.0" y="1246.0" width="222.0" height="33.0" rx="4.0" fill="#000" opacity="0.157" filter="url(#b6)"/>
<rect x="147.0" y="1256.0" width="56.0" height="12.5" rx="4.0" fill="#000" opacity="0.764" filter="url(#b3_5)"/>
<rect x="164.0" y="1257.0" width="28.0" height="11.0" rx="4.0" fill="#000" opacity="0.875" filter="url(#b3_2)"/>
<rect x="212.0" y="1256.5" width="65.0" height="11.0" rx="4.0" fill="#000" opacity="0.646" filter="url(#b3_5)"/>
<rect x="288.0" y="1256.5" width="69.0" height="11.0" rx="4.0" fill="#000" opacity="0.579" filter="url(#b3_5)"/>
</g>
<rect x="122.4" y="1215.1000000000001" width="251.39999999999998" height="89.49999999999996" fill="none" stroke="#000" stroke-width="2.8"/>
<text x="111.2" y="821.7" font-size="32" text-anchor="end">CD2AP</text>
<text x="111.8" y="922.3" font-size="32" text-anchor="end">NeuN</text>
<text x="111.8" y="1045.8" font-size="32" text-anchor="end">GFAP</text>
<text x="109.3" y="1170.2" font-size="32" text-anchor="end">Iba1</text>
<text x="111.8" y="1274.3" font-size="32" text-anchor="end">β-actin</text>
<text x="374.5" y="756.7" font-size="23.7" text-anchor="start">(kDa)</text>
<line x1="374.7" y1="795.9" x2="386.0" y2="795.9" stroke="#000" stroke-width="2.7"/>
<text x="386.2" y="806.0" font-size="24" text-anchor="start">75</text>
<line x1="374.7" y1="909.4" x2="386.0" y2="909.4" stroke="#000" stroke-width="2.7"/>
<text x="386.2" y="919.5" font-size="24" text-anchor="start">50</text>
<line x1="374.7" y1="1025.0" x2="386.0" y2="1025.0" stroke="#000" stroke-width="2.7"/>
<text x="386.2" y="1035.1" font-size="24" text-anchor="start">50</text>
<line x1="374.7" y1="1155.2" x2="386.0" y2="1155.2" stroke="#000" stroke-width="2.7"/>
<text x="386.2" y="1165.3" font-size="24" text-anchor="start">15</text>
<line x1="374.7" y1="1226.4" x2="386.0" y2="1226.4" stroke="#000" stroke-width="2.7"/>
<text x="386.2" y="1236.5" font-size="24" text-anchor="start">50</text>
<text transform="translate(249.5,681.0) rotate(-45)" font-size="32" text-anchor="end">neuron</text>
<text transform="translate(350.0,660.0) rotate(-45)" font-size="32" text-anchor="end">astrocyte</text>
<text transform="translate(420.0,661.0) rotate(-45)" font-size="32" text-anchor="end">microglia</text>
<text transform="translate(445.0,997.0) rotate(-90)" font-size="32.5" text-anchor="middle">CD2AP expression levels (A.U.)</text>
<rect x="561.5" y="1127.0" width="68.5" height="49.2" fill="#d9d0c5"/>
<rect x="664.5" y="1141.9" width="68.5" height="34.3" fill="#fdbd77"/>
<rect x="768.0" y="977.7" width="68.0" height="198.5" fill="#fa8072"/>
<line x1="527.2" y1="831.0" x2="527.2" y2="1178.4" stroke="#000" stroke-width="2.8"/>
<line x1="511.2" y1="1176.2" x2="871.4" y2="1176.2" stroke="#000" stroke-width="2.8"/>
<line x1="511.2" y1="832.4" x2="527.2" y2="832.4" stroke="#000" stroke-width="2.8"/>
<text x="505.7" y="845.8" font-size="32.5" text-anchor="end">2.0</text>
<line x1="511.2" y1="918.4" x2="527.2" y2="918.4" stroke="#000" stroke-width="2.8"/>
<text x="505.7" y="931.8" font-size="32.5" text-anchor="end">1.5</text>
<line x1="511.2" y1="1004.3" x2="527.2" y2="1004.3" stroke="#000" stroke-width="2.8"/>
<text x="505.7" y="1017.7" font-size="32.5" text-anchor="end">1.0</text>
<line x1="511.2" y1="1090.2" x2="527.2" y2="1090.2" stroke="#000" stroke-width="2.8"/>
<text x="505.7" y="1103.7" font-size="32.5" text-anchor="end">0.5</text>
<line x1="511.2" y1="1176.2" x2="527.2" y2="1176.2" stroke="#000" stroke-width="2.8"/>
<text x="505.7" y="1189.6" font-size="32.5" text-anchor="end">0.0</text>
<line x1="594.8" y1="1176.2" x2="594.8" y2="1185.0" stroke="#000" stroke-width="2.8"/>
<line x1="698.2" y1="1176.2" x2="698.2" y2="1185.0" stroke="#000" stroke-width="2.8"/>
<line x1="801.7" y1="1176.2" x2="801.7" y2="1185.0" stroke="#000" stroke-width="2.8"/>
<line x1="594.8" y1="1120.6" x2="594.8" y2="1132.3" stroke="#000" stroke-width="2.8"/>
<line x1="577.8" y1="1120.6" x2="611.8" y2="1120.6" stroke="#000" stroke-width="2.8"/>
<line x1="577.8" y1="1132.3" x2="611.8" y2="1132.3" stroke="#000" stroke-width="2.8"/>
<line x1="698.2" y1="1136.4" x2="698.2" y2="1147.6" stroke="#000" stroke-width="2.8"/>
<line x1="681.2" y1="1136.4" x2="715.2" y2="1136.4" stroke="#000" stroke-width="2.8"/>
<line x1="681.2" y1="1147.6" x2="715.2" y2="1147.6" stroke="#000" stroke-width="2.8"/>
<line x1="801.7" y1="915.0" x2="801.7" y2="1040.5" stroke="#000" stroke-width="2.8"/>
<line x1="784.7" y1="915.0" x2="818.7" y2="915.0" stroke="#000" stroke-width="2.8"/>
<line x1="784.7" y1="1040.5" x2="818.7" y2="1040.5" stroke="#000" stroke-width="2.8"/>
<circle cx="594.8" cy="1122.4" r="5.5" fill="#fff" stroke="#d9d0c5" stroke-width="3.0"/>
<circle cx="623.6" cy="1119.3" r="5.5" fill="#fff" stroke="#d9d0c5" stroke-width="3.0"/>
<circle cx="594.8" cy="1136.8" r="5.5" fill="#fff" stroke="#d9d0c5" stroke-width="3.0"/>
<circle cx="698.2" cy="1131.0" r="5.5" fill="#fff" stroke="#fdbd77" stroke-width="3.0"/>
<circle cx="669.9" cy="1150.3" r="5.5" fill="#fff" stroke="#fdbd77" stroke-width="3.0"/>
<circle cx="727.5" cy="1144.5" r="5.5" fill="#fff" stroke="#fdbd77" stroke-width="3.0"/>
<circle cx="801.7" cy="853.4" r="5.5" fill="#fff" stroke="#fa8072" stroke-width="3.0"/>
<circle cx="801.7" cy="1025.2" r="5.5" fill="#fff" stroke="#fa8072" stroke-width="3.0"/>
<circle cx="801.7" cy="1054.5" r="5.5" fill="#fff" stroke="#fa8072" stroke-width="3.0"/>
<line x1="594.8" y1="798.7" x2="801.7" y2="798.7" stroke="#000" stroke-width="2.8"/>
<line x1="701.4" y1="766.0" x2="701.4" y2="786.0" stroke="#000" stroke-width="3.6"/>
<line x1="692.7" y1="771.0" x2="710.1" y2="781.0" stroke="#000" stroke-width="3.6"/>
<line x1="692.7" y1="781.0" x2="710.1" y2="771.0" stroke="#000" stroke-width="3.6"/>
<line x1="698.2" y1="834.7" x2="801.7" y2="834.7" stroke="#000" stroke-width="2.8"/>
<line x1="753.0" y1="808.0" x2="753.0" y2="828.0" stroke="#000" stroke-width="3.6"/>
<line x1="744.3" y1="813.0" x2="761.7" y2="823.0" stroke="#000" stroke-width="3.6"/>
<line x1="744.3" y1="823.0" x2="761.7" y2="813.0" stroke="#000" stroke-width="3.6"/>
<text transform="translate(606.8,1208.0) rotate(-45)" font-size="32.5" text-anchor="end">neuron</text>
<text transform="translate(715.5,1207.6) rotate(-45)" font-size="32.5" text-anchor="end">astrocyte</text>
<text transform="translate(815.5,1207.0) rotate(-45)" font-size="32.5" text-anchor="end">microglia</text>
<clipPath id="cE1"><rect x="999.4" y="860.8" width="332.80000000000007" height="79.80000000000007"/></clipPath>
<rect x="999.4" y="860.8" width="332.80000000000007" height="79.80000000000007" fill="#f3f3f3"/>
<g clip-path="url(#cE1)">
<rect x="1005.0" y="868.0" width="62.5" height="58.0" rx="4.0" fill="#000" opacity="0.086" filter="url(#b5)"/>
<rect x="1005.5" y="905.0" width="62.0" height="13.0" rx="4.0" fill="#000" opacity="0.125" filter="url(#b3_5)"/>
<rect x="1089.5" y="866.0" width="63.5" height="39.0" rx="4.0" fill="#000" opacity="0.144" filter="url(#b5)"/>
<rect x="1089.5" y="886.0" width="63.5" height="19.0" rx="4.0" fill="#000" opacity="0.210" filter="url(#b4)"/>
<rect x="1089.0" y="903.0" width="64.5" height="26.5" rx="4.0" fill="#000" opacity="0.621" filter="url(#b3_2)"/>
<rect x="1090.0" y="906.0" width="63.0" height="8.0" rx="4.0" fill="#000" opacity="0.323" filter="url(#b2_6)"/>
<rect x="1171.0" y="868.0" width="61.0" height="58.0" rx="4.0" fill="#000" opacity="0.095" filter="url(#b5)"/>
<rect x="1171.5" y="905.0" width="60.5" height="14.0" rx="4.0" fill="#000" opacity="0.162" filter="url(#b3_5)"/>
<rect x="1254.5" y="866.0" width="64.5" height="39.0" rx="4.0" fill="#000" opacity="0.144" filter="url(#b5)"/>
<rect x="1254.5" y="886.0" width="64.5" height="19.0" rx="4.0" fill="#000" opacity="0.225" filter="url(#b4)"/>
<rect x="1254.0" y="903.0" width="65.5" height="26.5" rx="4.0" fill="#000" opacity="0.630" filter="url(#b3_2)"/>
<rect x="1255.0" y="906.0" width="64.0" height="8.0" rx="4.0" fill="#000" opacity="0.355" filter="url(#b2_6)"/>
</g>
<rect x="1000.6999999999999" y="862.0999999999999" width="330.20000000000005" height="77.20000000000007" fill="none" stroke="#000" stroke-width="2.6"/>
<clipPath id="cE2"><rect x="999.4" y="946.8" width="332.80000000000007" height="119.40000000000009"/></clipPath>
<rect x="999.4" y="946.8" width="332.80000000000007" height="119.40000000000009" fill="#f9f9f9"/>
<g clip-path="url(#cE2)">
<rect x="1008.0" y="981.5" width="60.5" height="12.0" rx="4.0" fill="#000" opacity="0.224" filter="url(#b3_5)"/>
<rect x="1008.0" y="1026.5" width="60.0" height="5.0" rx="2.5" fill="#000" opacity="0.237" filter="url(#b2_8)"/>
<rect x="1091.0" y="976.0" width="62.5" height="20.0" rx="4.0" fill="#000" opacity="0.746" filter="url(#b3_5)"/>
<rect x="1091.0" y="1025.5" width="62.5" height="7.0" rx="3.5" fill="#000" opacity="0.428" filter="url(#b2_8)"/>
<rect x="1176.5" y="983.0" width="59.5" height="10.0" rx="4.0" fill="#000" opacity="0.090" filter="url(#b3_5)"/>
<rect x="1177.0" y="1027.5" width="58.0" height="4.0" rx="2.0" fill="#000" opacity="0.099" filter="url(#b2_8)"/>
<rect x="1259.0" y="981.5" width="61.5" height="12.0" rx="4.0" fill="#000" opacity="0.207" filter="url(#b3_5)"/>
<rect x="1260.0" y="1027.5" width="60.0" height="4.0" rx="2.0" fill="#000" opacity="0.084" filter="url(#b2_8)"/>
</g>
<rect x="1000.6999999999999" y="948.0999999999999" width="330.20000000000005" height="116.8000000000001" fill="none" stroke="#000" stroke-width="2.6"/>
<clipPath id="cE3"><rect x="999.4" y="1074.2" width="332.80000000000007" height="80.09999999999991"/></clipPath>
<rect x="999.4" y="1074.2" width="332.80000000000007" height="80.09999999999991" fill="#f0f0f0"/>
<g clip-path="url(#cE3)">
<rect x="1006.0" y="1100.0" width="65.0" height="27.0" rx="4.0" fill="#000" opacity="0.146" filter="url(#b4_5)"/>
<rect x="1088.0" y="1099.0" width="68.0" height="29.0" rx="4.0" fill="#000" opacity="0.334" filter="url(#b4_5)"/>
<rect x="1171.0" y="1100.0" width="67.0" height="27.0" rx="4.0" fill="#000" opacity="0.146" filter="url(#b4_5)"/>
<rect x="1254.0" y="1100.0" width="68.0" height="27.0" rx="4.0" fill="#000" opacity="0.209" filter="url(#b4_5)"/>
<rect x="1008.5" y="1104.5" width="60.0" height="7.5" rx="3.8" fill="#000" opacity="0.584" filter="url(#b2_7)"/>
<rect x="1008.5" y="1114.5" width="60.0" height="7.0" rx="3.5" fill="#000" opacity="0.406" filter="url(#b2_7)"/>
<rect x="1090.5" y="1103.5" width="63.0" height="9.0" rx="4.0" fill="#000" opacity="1.000" filter="url(#b2_7)"/>
<rect x="1091.0" y="1114.5" width="62.5" height="7.5" rx="3.8" fill="#000" opacity="0.935" filter="url(#b2_7)"/>
<rect x="1173.5" y="1104.5" width="62.0" height="7.5" rx="3.8" fill="#000" opacity="0.555" filter="url(#b2_7)"/>
<rect x="1173.5" y="1114.5" width="62.0" height="7.0" rx="3.5" fill="#000" opacity="0.503" filter="url(#b2_7)"/>
<rect x="1257.0" y="1105.0" width="62.5" height="7.5" rx="3.8" fill="#000" opacity="0.618" filter="url(#b2_7)"/>
<rect x="1257.0" y="1114.5" width="62.5" height="7.5" rx="3.8" fill="#000" opacity="0.731" filter="url(#b2_7)"/>
</g>
<rect x="1000.6999999999999" y="1075.5" width="330.20000000000005" height="77.49999999999991" fill="none" stroke="#000" stroke-width="2.6"/>
<clipPath id="cE4"><rect x="999.4" y="1162" width="332.80000000000007" height="80.5"/></clipPath>
<rect x="999.4" y="1162" width="332.80000000000007" height="80.5" fill="#f1f1f1"/>
<g clip-path="url(#cE4)">
<rect x="1004.0" y="1191.5" width="73.0" height="18.0" rx="4.0" fill="#000" opacity="0.769" filter="url(#b4_5)"/>
<rect x="1087.0" y="1192.0" width="73.0" height="18.5" rx="4.0" fill="#000" opacity="0.748" filter="url(#b4_5)"/>
<rect x="1168.0" y="1192.5" width="76.5" height="18.5" rx="4.0" fill="#000" opacity="0.791" filter="url(#b4_5)"/>
<rect x="1254.0" y="1193.0" width="78.0" height="18.5" rx="4.0" fill="#000" opacity="0.782" filter="url(#b4_5)"/>
</g>
<rect x="1000.6999999999999" y="1163.3" width="330.20000000000005" height="77.9" fill="none" stroke="#000" stroke-width="2.6"/>
<text x="987.5" y="922.3" font-size="32" text-anchor="end">APP</text>
<text x="987.5" y="1019.7" font-size="32" text-anchor="end">CSF1R</text>
<text x="987.5" y="1128.8" font-size="32" text-anchor="end">CD2AP</text>
<text x="987.5" y="1215.7" font-size="32" text-anchor="end">GAPDH</text>
<text x="1334.0" y="858.1" font-size="23.7" text-anchor="start">(kDa)</text>
<line x1="1332.0" y1="931.0" x2="1346.0" y2="931.0" stroke="#000" stroke-width="2.7"/>
<text x="1346.2" y="941.0" font-size="24" text-anchor="start">100</text>
<line x1="1332.0" y1="1011.3" x2="1346.0" y2="1011.3" stroke="#000" stroke-width="2.7"/>
<text x="1346.2" y="1021.3" font-size="24" text-anchor="start">150</text>
<line x1="1332.0" y1="1100.4" x2="1346.0" y2="1100.4" stroke="#000" stroke-width="2.7"/>
<text x="1346.2" y="1110.4" font-size="24" text-anchor="start">75</text>
<line x1="1332.0" y1="1181.1" x2="1346.0" y2="1181.1" stroke="#000" stroke-width="2.7"/>
<text x="1346.2" y="1191.1" font-size="24" text-anchor="start">37</text>
<text x="1291.0" y="740.0" font-size="32" text-anchor="middle">PLX3397</text>
<line x1="1222.0" y1="754.5" x2="1362.0" y2="754.5" stroke="#000" stroke-width="2.8"/>
<text transform="translate(1072.0,810.0) rotate(-45)" font-size="32" text-anchor="end">WT</text>
<text transform="translate(1197.0,774.5) rotate(-45)" font-size="32" text-anchor="end">5XFAD</text>
<text transform="translate(1237.0,810.0) rotate(-45)" font-size="32" text-anchor="end">WT</text>
<text transform="translate(1358.0,774.0) rotate(-45)" font-size="32" text-anchor="end">5XFAD</text>
<text transform="translate(1422.0,987.5) rotate(-90)" font-size="32.5" text-anchor="middle">Relative CD2AP protein levels (A.U.)</text>
<rect x="1517.3" y="945.2" width="45.6" height="229.0" fill="#d9d0c5"/>
<rect x="1586.1" y="897.8" width="45.6" height="276.4" fill="#fa8072"/>
<rect x="1699.7" y="949.9" width="45.6" height="224.3" fill="#d9d0c5"/>
<rect x="1768.6" y="969.0" width="45.6" height="205.2" fill="#fa8072"/>
<line x1="1494.8" y1="829.8" x2="1494.8" y2="1176.4" stroke="#000" stroke-width="2.8"/>
<line x1="1478.8" y1="1174.2" x2="1839.3" y2="1174.2" stroke="#000" stroke-width="2.8"/>
<line x1="1478.8" y1="831.2" x2="1494.8" y2="831.2" stroke="#000" stroke-width="2.8"/>
<text x="1474.7" y="839.5" font-size="32.5" text-anchor="end">1.5</text>
<line x1="1478.8" y1="945.5" x2="1494.8" y2="945.5" stroke="#000" stroke-width="2.8"/>
<text x="1474.7" y="953.8" font-size="32.5" text-anchor="end">1.0</text>
<line x1="1478.8" y1="1059.9" x2="1494.8" y2="1059.9" stroke="#000" stroke-width="2.8"/>
<text x="1474.7" y="1068.2" font-size="32.5" text-anchor="end">0.5</text>
<line x1="1478.8" y1="1174.2" x2="1494.8" y2="1174.2" stroke="#000" stroke-width="2.8"/>
<text x="1474.7" y="1182.5" font-size="32.5" text-anchor="end">0.0</text>
<line x1="1574.5" y1="1174.2" x2="1574.5" y2="1183.0" stroke="#000" stroke-width="2.8"/>
<line x1="1757.0" y1="1174.2" x2="1757.0" y2="1183.0" stroke="#000" stroke-width="2.8"/>
<line x1="1608.9" y1="882.4" x2="1608.9" y2="912.7" stroke="#000" stroke-width="2.8"/>
<line x1="1597.4" y1="882.4" x2="1620.4" y2="882.4" stroke="#000" stroke-width="2.8"/>
<line x1="1597.4" y1="912.7" x2="1620.4" y2="912.7" stroke="#000" stroke-width="2.8"/>
<line x1="1722.5" y1="932.7" x2="1722.5" y2="966.6" stroke="#000" stroke-width="2.8"/>
<line x1="1711.0" y1="932.7" x2="1734.0" y2="932.7" stroke="#000" stroke-width="2.8"/>
<line x1="1711.0" y1="966.6" x2="1734.0" y2="966.6" stroke="#000" stroke-width="2.8"/>
<line x1="1791.4" y1="960.1" x2="1791.4" y2="979.2" stroke="#000" stroke-width="2.8"/>
<line x1="1779.9" y1="960.1" x2="1802.9" y2="960.1" stroke="#000" stroke-width="2.8"/>
<line x1="1779.9" y1="979.2" x2="1802.9" y2="979.2" stroke="#000" stroke-width="2.8"/>
<circle cx="1523.3" cy="945.2" r="5.5" fill="#fff" stroke="#d9d0c5" stroke-width="3.0"/>
<circle cx="1540.1" cy="945.2" r="5.5" fill="#fff" stroke="#d9d0c5" stroke-width="3.0"/>
<circle cx="1556.8" cy="945.2" r="5.5" fill="#fff" stroke="#d9d0c5" stroke-width="3.0"/>
<circle cx="1608.9" cy="867.5" r="5.5" fill="#fff" stroke="#fa8072" stroke-width="3.0"/>
<circle cx="1591.7" cy="915.9" r="5.5" fill="#fff" stroke="#fa8072" stroke-width="3.0"/>
<circle cx="1626.2" cy="909.4" r="5.5" fill="#fff" stroke="#fa8072" stroke-width="3.0"/>
<circle cx="1722.5" cy="915.9" r="5.5" fill="#fff" stroke="#d9d0c5" stroke-width="3.0"/>
<circle cx="1704.8" cy="968.5" r="5.5" fill="#fff" stroke="#d9d0c5" stroke-width="3.0"/>
<circle cx="1739.2" cy="964.3" r="5.5" fill="#fff" stroke="#d9d0c5" stroke-width="3.0"/>
<circle cx="1790.9" cy="950.3" r="5.5" fill="#fff" stroke="#fa8072" stroke-width="3.0"/>
<circle cx="1773.7" cy="979.7" r="5.5" fill="#fff" stroke="#fa8072" stroke-width="3.0"/>
<circle cx="1808.1" cy="978.3" r="5.5" fill="#fff" stroke="#fa8072" stroke-width="3.0"/>
<line x1="1572.2" y1="798.0" x2="1572.2" y2="818.0" stroke="#000" stroke-width="3.6"/>
<line x1="1563.5" y1="803.0" x2="1580.8" y2="813.0" stroke="#000" stroke-width="3.6"/>
<line x1="1563.5" y1="813.0" x2="1580.8" y2="803.0" stroke="#000" stroke-width="3.6"/>
<line x1="1540.5" y1="838.2" x2="1608.5" y2="838.2" stroke="#000" stroke-width="2.8"/>
<text x="1757.9" y="875.2" font-size="32" text-anchor="middle">ns</text>
<line x1="1723.0" y1="898.2" x2="1790.9" y2="898.2" stroke="#000" stroke-width="2.8"/>
<text x="1577.6" y="1215.3" font-size="32.5" text-anchor="middle">normal</text>
<text x="1763.9" y="1215.3" font-size="32.5" text-anchor="middle">PLX3397</text>
<circle cx="1818.3" cy="795.4" r="5.5" fill="#fff" stroke="#d9d0c5" stroke-width="3.0"/>
<text x="1838.0" y="807.0" font-size="32" text-anchor="start">WT</text>
<circle cx="1818.3" cy="845.6" r="5.5" fill="#fff" stroke="#fa8072" stroke-width="3.0"/>
<text x="1838.0" y="857.0" font-size="32" text-anchor="start">5XFAD</text>
</svg></body></html>
